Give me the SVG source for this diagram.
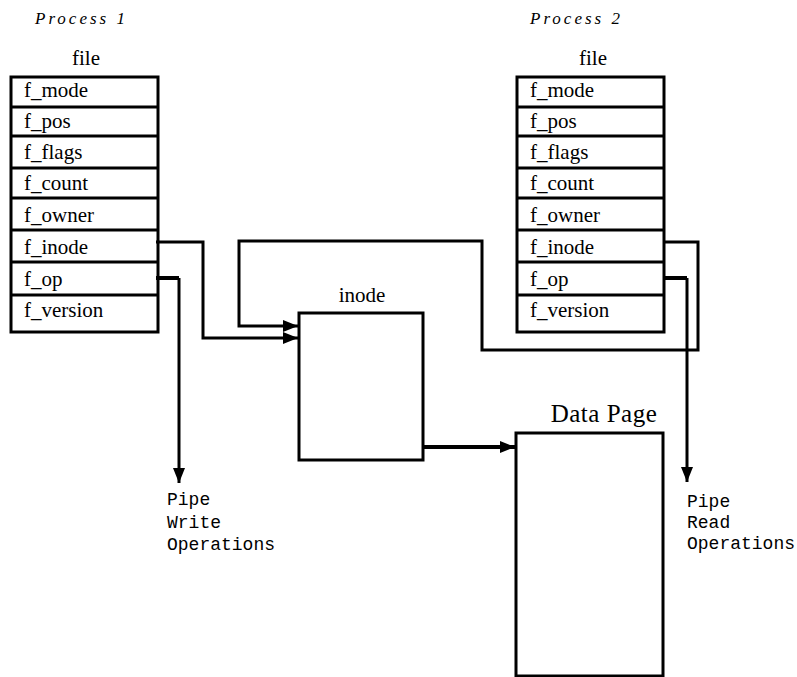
<svg xmlns="http://www.w3.org/2000/svg" width="797" height="677" viewBox="0 0 797 677">
<style>
.box{fill:none;stroke:#000;stroke-width:3}
.sep{stroke:#000;stroke-width:3}
.ln{fill:none;stroke:#000;stroke-width:3}
.thick{fill:none;stroke:#000;stroke-width:4}
.fld{font-family:"Liberation Serif","DejaVu Serif",serif;font-size:21px;fill:#000}
.lbl{font-family:"Liberation Serif","DejaVu Serif",serif;font-size:21px;fill:#000;text-anchor:middle}
.big{font-family:"Liberation Serif","DejaVu Serif",serif;font-size:25px;fill:#000;text-anchor:middle;letter-spacing:0.5px}
.proc{font-family:"Liberation Serif","DejaVu Serif",serif;font-size:17px;font-style:italic;fill:#000;letter-spacing:3px}
.mono{font-family:"Liberation Mono","DejaVu Sans Mono",monospace;font-size:18px;fill:#000}
</style>
<defs>
<marker id="ah" markerUnits="userSpaceOnUse" markerWidth="16" markerHeight="12" viewBox="0 0 16 12" refX="15" refY="6" orient="auto">
<path d="M0,0 L15,6 L0,12 Z" fill="#000"/>
</marker>
</defs>
<text class="proc" x="35" y="24">Process 1</text>
<text class="proc" x="530" y="24">Process 2</text>
<g id="file1">
<text class="lbl" x="86" y="65">file</text>
<rect class="box" x="11" y="77" width="147" height="255"/>
<line class="sep" x1="11" y1="107" x2="158" y2="107"/>
<line class="sep" x1="11" y1="136" x2="158" y2="136"/>
<line class="sep" x1="11" y1="168" x2="158" y2="168"/>
<line class="sep" x1="11" y1="198" x2="158" y2="198"/>
<line class="sep" x1="11" y1="230" x2="158" y2="230"/>
<line class="sep" x1="11" y1="262" x2="158" y2="262"/>
<line class="sep" x1="11" y1="295" x2="158" y2="295"/>
<text class="fld" x="24" y="97">f_mode</text>
<text class="fld" x="24" y="128">f_pos</text>
<text class="fld" x="24" y="159">f_flags</text>
<text class="fld" x="24" y="190">f_count</text>
<text class="fld" x="24" y="222">f_owner</text>
<text class="fld" x="24" y="254">f_inode</text>
<text class="fld" x="24" y="286">f_op</text>
<text class="fld" x="24" y="317">f_version</text>
</g>
<g id="file2">
<text class="lbl" x="593" y="65">file</text>
<rect class="box" x="517" y="77" width="147" height="255"/>
<line class="sep" x1="517" y1="107" x2="664" y2="107"/>
<line class="sep" x1="517" y1="136" x2="664" y2="136"/>
<line class="sep" x1="517" y1="168" x2="664" y2="168"/>
<line class="sep" x1="517" y1="198" x2="664" y2="198"/>
<line class="sep" x1="517" y1="230" x2="664" y2="230"/>
<line class="sep" x1="517" y1="262" x2="664" y2="262"/>
<line class="sep" x1="517" y1="295" x2="664" y2="295"/>
<text class="fld" x="530" y="97">f_mode</text>
<text class="fld" x="530" y="128">f_pos</text>
<text class="fld" x="530" y="159">f_flags</text>
<text class="fld" x="530" y="190">f_count</text>
<text class="fld" x="530" y="222">f_owner</text>
<text class="fld" x="530" y="254">f_inode</text>
<text class="fld" x="530" y="286">f_op</text>
<text class="fld" x="530" y="317">f_version</text>
</g>
<g id="inode">
<text class="lbl" x="362" y="302">inode</text>
<rect class="box" x="299" y="313" width="124" height="147"/>
</g>
<g id="datapage">
<text class="big" x="604" y="422">Data Page</text>
<rect class="box" x="516" y="433" width="147" height="243"/>
</g>
<g id="pipewrite">
<text class="mono" x="167" y="505">Pipe</text>
<text class="mono" x="167" y="528">Write</text>
<text class="mono" x="167" y="550">Operations</text>
</g>
<g id="piperead">
<text class="mono" x="687" y="507">Pipe</text>
<text class="mono" x="687" y="528">Read</text>
<text class="mono" x="687" y="549">Operations</text>
</g>
<g id="connectors">
<polyline class="ln" points="156,242 203,242 203,338 298,338" marker-end="url(#ah)"/>
<polyline class="ln" points="663,242 698,242 698,350 482,350 482,241 239,241 239,326 298,326" marker-end="url(#ah)"/>
<polyline class="thick" points="156,278 179,278" />
<polyline class="ln" points="179,278 179,483" marker-end="url(#ah)"/>
<polyline class="thick" points="663,278 687,278"/>
<polyline class="ln" points="687,278 687,482" marker-end="url(#ah)"/>
<polyline class="thick" points="423,447 515,447" marker-end="url(#ah)"/>
</g>
</svg>
